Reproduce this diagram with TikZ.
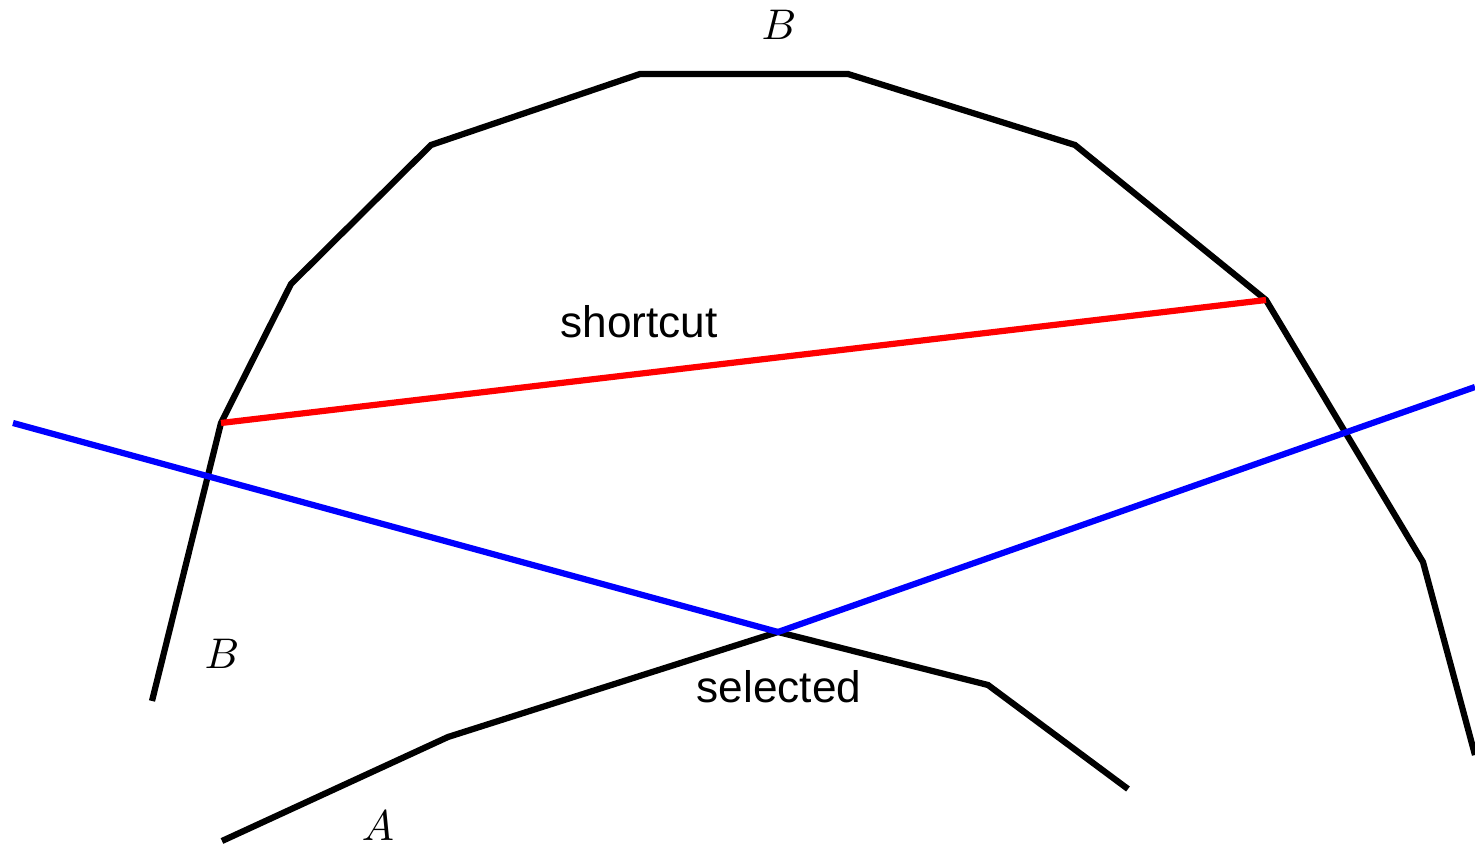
\documentclass[tikz,border=0pt]{standalone}
\usepackage{fontspec}
\setsansfont{Liberation Sans}
\usetikzlibrary{positioning}

\begin{document}
\begin{tikzpicture}[x=0.0082cm,y=0.0082cm]
\tikzset{
  curveline/.style={line width=1.45pt,black},
  cutline/.style={line width=1.45pt,blue},
  shortline/.style={line width=1.45pt,red},
  plainlabel/.style={font=\sffamily\fontsize{10.3}{12}\selectfont,inner sep=0pt},
  mathlabel/.style={inner sep=0pt}
}
\useasboundingbox (0,0) rectangle (1475,846);
% curve B
\coordinate (b0) at (152,145);
\coordinate (b1) at (221,423);
\coordinate (b2) at (291,562);
\coordinate (b3) at (431,701);
\coordinate (b4) at (640,772);
\coordinate (b5) at (848,772);
\coordinate (b6) at (1075,701);
\coordinate (b7) at (1266,546);
\coordinate (b8) at (1423,284);
\coordinate (b9) at (1475,91);
% curve A
\coordinate (a0) at (222,5);
\coordinate (a1) at (448,109);
\coordinate (a2) at (778,214);
\coordinate (a3) at (988,161);
\coordinate (a4) at (1128,57);
% ends of the selected lines
\coordinate (s0) at (13,423);
\coordinate (s1) at (1475,459);
\draw[curveline] (b0) -- (b1) -- (b2) -- (b3) -- (b4) -- (b5) -- (b6) -- (b7) -- (b8) -- (b9);
\draw[curveline] (a0) -- (a1) -- (a2) -- (a3) -- (a4);
\draw[cutline] (s0) -- (a2) -- (s1);
\draw[shortline] (b1) -- (b7);
\node[mathlabel] (l_Btop) at (779,821) {$B$};
\node[mathlabel] (l_Bleft) at (222,192) {$B$};
\node[mathlabel] (l_A) at (378,20) {$A$};
\node[plainlabel] (l_short) at (639,524) {shortcut};
\node[plainlabel] (l_sel) at (779,159) {selected};
\end{tikzpicture}
\end{document}
